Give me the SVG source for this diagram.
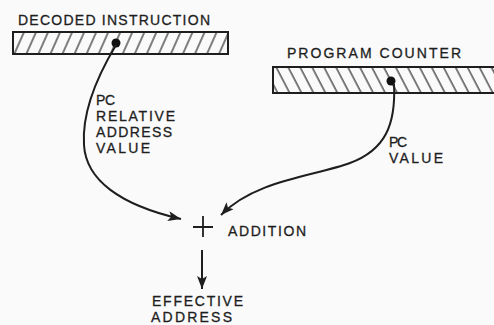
<svg xmlns="http://www.w3.org/2000/svg" width="494" height="325" viewBox="0 0 494 325">
<style>
text{font-family:"Liberation Sans","DejaVu Sans",Arial,sans-serif;font-size:14px;fill:#1e1e1e;stroke:#1e1e1e;stroke-width:0.3}
.box{stroke:#1e1e1e;stroke-width:2}
.wire{fill:none;stroke:#1e1e1e;stroke-width:2}
.dot{fill:#111}
</style>
<defs>
<pattern id="hatchA" patternUnits="userSpaceOnUse" width="11" height="11" patternTransform="rotate(24)">
<line x1="2" y1="-1" x2="2" y2="12" stroke="#2a2a2a" stroke-width="1.2"/>
</pattern>
<pattern id="hatchB" patternUnits="userSpaceOnUse" width="10.6" height="11" patternTransform="rotate(-27.5)">
<line x1="2" y1="-1" x2="2" y2="12" stroke="#2a2a2a" stroke-width="1.2"/>
</pattern>
<marker id="arr" markerUnits="userSpaceOnUse" markerWidth="16" markerHeight="12" refX="13" refY="5" orient="auto">
<path d="M0,0 L13,5 L0,10 L3,5 Z" fill="#1e1e1e"/>
</marker>
</defs>
<rect width="494" height="325" fill="#fafafa"/>
<g id="decoded-instruction">
<text x="18" y="25" textLength="192" lengthAdjust="spacing">DECODED INSTRUCTION</text>
<rect class="box" x="13" y="32" width="215" height="22" fill="url(#hatchA)"/>
<circle class="dot" cx="116" cy="43" r="4.5"/>
</g>
<g id="program-counter">
<text x="287" y="58" textLength="174" lengthAdjust="spacing">PROGRAM COUNTER</text>
<rect class="box" x="273" y="67" width="230" height="26" fill="url(#hatchB)"/>
<circle class="dot" cx="391" cy="81" r="4.5"/>
</g>
<g id="addition">
<path d="M193,227 H213 M203,216 V237" stroke="#1e1e1e" stroke-width="1.8" fill="none"/>
<text x="228" y="236" textLength="78" lengthAdjust="spacing">ADDITION</text>
</g>
<g id="effective-address">
<text x="152" y="306" textLength="91" lengthAdjust="spacing">EFFECTIVE</text>
<text x="151" y="322" textLength="81" lengthAdjust="spacing">ADDRESS</text>
</g>
<g id="labels">
<text x="96" y="105" textLength="19" lengthAdjust="spacing">PC</text>
<text x="96" y="121" textLength="79" lengthAdjust="spacing">RELATIVE</text>
<text x="96" y="137" textLength="76" lengthAdjust="spacing">ADDRESS</text>
<text x="96" y="153" textLength="54" lengthAdjust="spacing">VALUE</text>
<text x="389" y="147" textLength="18" lengthAdjust="spacing">PC</text>
<text x="389" y="163" textLength="54" lengthAdjust="spacing">VALUE</text>
</g>
<g id="connectors">
<path class="wire" d="M116,45 C95,80 82,115 84,145 C86,180 120,205 181,219" marker-end="url(#arr)"/>
<path class="wire" d="M394,84 C396,125 385,150 350,163 C315,176 255,180 221,215" marker-end="url(#arr)"/>
<path class="wire" d="M202,250 V289" marker-end="url(#arr)"/>
</g>
</svg>
